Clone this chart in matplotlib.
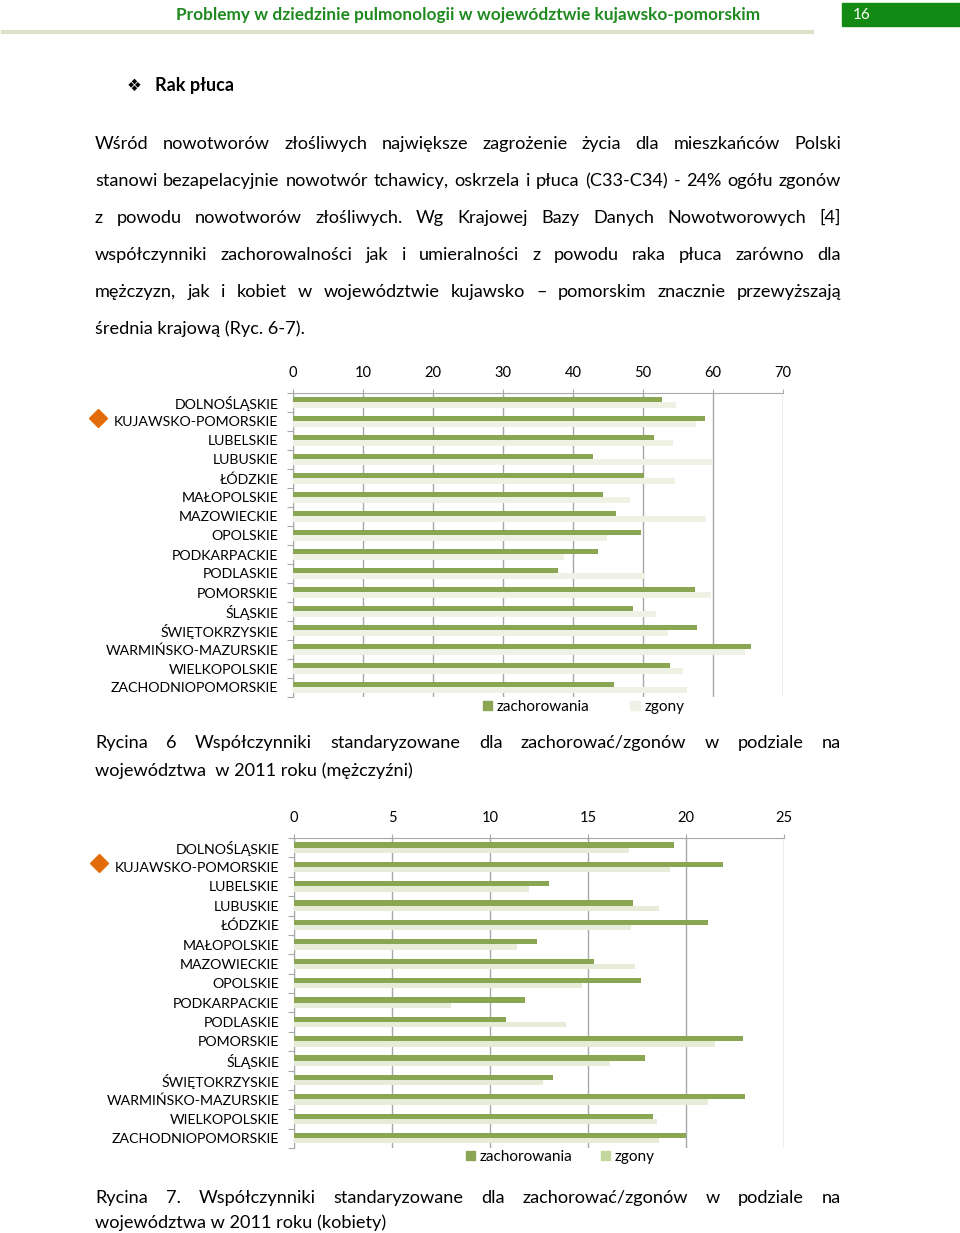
import matplotlib
matplotlib.use("Agg")
import matplotlib.pyplot as plt
import matplotlib.transforms as mtransforms
from matplotlib.lines import Line2D
from matplotlib.patches import Patch, Rectangle
import numpy as np

plt.rcParams["font.family"] = ["Lato", "DejaVu Sans"]

# --- data -----------------------------------------------------------------
voivodeships = [
    "DOLNOŚLĄSKIE", "KUJAWSKO-POMORSKIE", "LUBELSKIE", "LUBUSKIE", "ŁÓDZKIE",
    "MAŁOPOLSKIE", "MAZOWIECKIE", "OPOLSKIE", "PODKARPACKIE", "PODLASKIE",
    "POMORSKIE", "ŚLĄSKIE", "ŚWIĘTOKRZYSKIE", "WARMIŃSKO-MAZURSKIE",
    "WIELKOPOLSKIE", "ZACHODNIOPOMORSKIE",
]
men_incidence = [52.7, 58.9, 51.6, 42.8, 50.2, 44.3, 46.1, 49.7,
                 43.6, 37.8, 57.4, 48.5, 57.7, 65.4, 53.9, 45.9]
men_deaths = [54.7, 57.6, 54.3, 60.0, 54.5, 48.1, 59.0, 44.8,
              38.7, 50.1, 59.7, 51.9, 53.6, 64.5, 55.7, 56.3]
women_incidence = [19.4, 21.9, 13.0, 17.3, 21.1, 12.4, 15.3, 17.7,
                   11.8, 10.8, 22.9, 17.9, 13.2, 23.0, 18.3, 20.0]
women_deaths = [17.1, 19.2, 12.0, 18.6, 17.2, 11.4, 17.4, 14.7,
                8.0, 13.9, 21.5, 16.1, 12.7, 21.1, 18.5, 18.6]
series_labels = ["zachorowania", "zgony"]

header = "Problemy w dziedzinie pulmonologii w województwie kujawsko-pomorskim"
page_no = "16"
section = "Rak płuca"
paragraph = [
    "Wśród nowotworów złośliwych największe zagrożenie życia dla mieszkańców Polski",
    "stanowi bezapelacyjnie nowotwór tchawicy, oskrzela i płuca (C33-C34) - 24% ogółu zgonów",
    "z powodu nowotworów złośliwych. Wg Krajowej Bazy Danych Nowotworowych [4]",
    "współczynniki zachorowalności jak i umieralności z powodu raka płuca zarówno dla",
    "mężczyzn, jak i kobiet w województwie kujawsko – pomorskim znacznie przewyższają",
    "średnia krajową (Ryc. 6-7).",
]
caption1 = ["Rycina 6 Współczynniki standaryzowane dla zachorować/zgonów w podziale na",
            "województwa  w 2011 roku (mężczyźni)"]
caption2 = ["Rycina 7. Współczynniki standaryzowane dla zachorować/zgonów w podziale na",
            "województwa w 2011 roku (kobiety)"]

GREEN = "#8ba652"
PALE1 = "#eef1e3"
PALE2 = "#e6ecd8"
PALE2_LEG = "#c4d79e"
GRID = "#a8a8a8"

W, H = 960, 1233
fig = plt.figure(figsize=(W / 100, H / 100), dpi=100)
px = mtransforms.Affine2D().scale(1 / W, -1 / H).translate(0, 1) + fig.transFigure
renderer = fig.canvas.get_renderer()


def put(x, y, s, **kw):
    return fig.text(x, y, s, transform=px, **kw)


def justify(line, y, x0=95, x1=841, size=13.1, full=True):
    if not full:
        put(x0, y, line, fontsize=size, va="baseline")
        return
    words = line.split()
    texts = [put(x0, y, w, fontsize=size, va="baseline") for w in words]
    widths = [t.get_window_extent(renderer).width for t in texts]
    gap = (x1 - x0 - sum(widths)) / (len(words) - 1)
    x = x0
    for t, w in zip(texts, widths):
        t.set_x(x)
        x += w + gap


# header
put(468, 15, header, fontsize=12.4, fontweight="bold", color="#1f8a1f",
    ha="center", va="center")
fig.add_artist(Rectangle((842, 3), 118, 23, transform=px, color="#138a13"))
put(853, 15, page_no, fontsize=11, color="white", va="center")
fig.add_artist(Line2D([3, 812], [32, 32], transform=px, color="#dde2c6", lw=3))

put(127, 86, "❖", fontsize=12, va="center", family="DejaVu Sans")
put(155, 86, section, fontsize=13, fontweight="bold", va="center")

for i, line in enumerate(paragraph):
    justify(line, 149 + i * 37, full=i < len(paragraph) - 1)

justify(caption1[0], 748)
justify(caption1[1], 776, full=False)
justify(caption2[0], 1203)
justify(caption2[1], 1228, full=False)


def chart(left, top, bottom, incidence, deaths, xmax, step, pale, pale_leg,
          legend_xy, legend_gap, diamond_xy):
    ax = fig.add_axes([left / W, 1 - bottom / H, 490 / W, (bottom - top) / H])
    y = np.arange(len(voivodeships))
    ax.barh(y - 0.14, incidence, height=0.27, color=GREEN, zorder=3)
    ax.barh(y + 0.13, deaths, height=0.27, color=pale, zorder=3)
    ax.set_xlim(0, xmax)
    ax.set_ylim(len(voivodeships) - 0.5, -0.5)
    ax.set_xticks(np.arange(0, xmax + 1, step))
    ax.xaxis.tick_top()
    ax.tick_params(axis="x", length=3, color=GRID, labelsize=10.5, pad=6.5,
                   labelcolor="black")
    ax.set_yticks(np.arange(-0.5, len(voivodeships), 1))
    ax.set_yticklabels([])
    ax.tick_params(axis="y", which="major", length=4, color=GRID)
    ax.set_yticks(y, minor=True)
    ax.set_yticklabels(voivodeships, minor=True, fontsize=10.2)
    ax.tick_params(axis="y", which="minor", length=0, pad=10.5)
    ax.grid(axis="x", color=GRID, lw=1, zorder=0)
    for s in ("right", "bottom"):
        ax.spines[s].set_visible(False)
    for s in ("left", "top"):
        ax.spines[s].set_color(GRID)
    handles = [Patch(color=GREEN), Patch(color=pale_leg)]
    ax.legend(handles, series_labels, ncol=2, frameon=False, fontsize=11,
              loc="center left", bbox_to_anchor=legend_xy,
              bbox_transform=px, handlelength=0.6, handleheight=0.6,
              handletextpad=0.3, columnspacing=legend_gap, borderpad=0)
    fig.add_artist(Line2D([diamond_xy[0]], [diamond_xy[1]], transform=px,
                          marker="D", markersize=9.5, color="#e36c0a", lw=0))
    return ax


chart(293, 393, 697, men_incidence, men_deaths, 70, 10, PALE1, PALE1,
      (475, 707), 2.7, (98, 418))
chart(294, 838, 1148, women_incidence, women_deaths, 25, 5, PALE2, PALE2_LEG,
      (458, 1157), 1.9, (99, 863))

fig.savefig("out.png", dpi=100)
